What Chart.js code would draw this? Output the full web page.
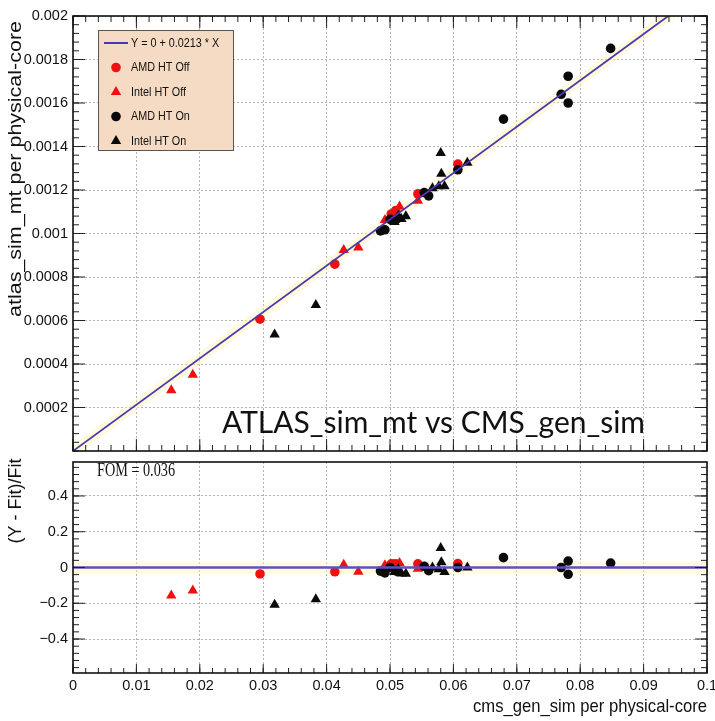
<!DOCTYPE html>
<html>
<head>
<meta charset="utf-8">
<script src="https://cdn.jsdelivr.net/npm/chart.js@4/dist/chart.umd.min.js"></script>
<style>
    html, body { margin: 0; padding: 0; background: #fff; }
    #wrap { position: relative; width: 715px; height: 721px; overflow: hidden; }
    #top { position: absolute; left: 0; top: 0; }
    #bot { position: absolute; left: 0; top: 456px; }
</style>
</head>
<body>
<div id="wrap">
    <canvas id="top" width="715" height="457"></canvas>
    <canvas id="bot" width="715" height="265"></canvas>
</div>
<script>
// ---------------------------------------------------------------------------
// Data
// ---------------------------------------------------------------------------

const xMin = 0;
const xMax = 0.1;
const xTicks = [0, 0.01, 0.02, 0.03, 0.04, 0.05, 0.06, 0.07, 0.08, 0.09, 0.1];
const xTickLabels = ['0', '0.01', '0.02', '0.03', '0.04', '0.05', '0.06', '0.07', '0.08', '0.09', '0.1'];

const topYTicks = [0.0002, 0.0004, 0.0006, 0.0008, 0.001, 0.0012, 0.0014, 0.0016, 0.0018, 0.002];
const topYTickLabels = ['0.0002', '0.0004', '0.0006', '0.0008', '0.001', '0.0012', '0.0014', '0.0016', '0.0018', '0.002'];

const resYTicks = [-0.4, -0.2, 0, 0.2, 0.4];
const resYTickLabels = ['\u22120.4', '\u22120.2', '0', '0.2', '0.4'];

const fitSlope = 0.0213;
const fitLabel = 'Y = 0 + 0.0213 * X';
const fomLabel = 'FOM = 0.036';

const amdOffX = [0.0295, 0.0413, 0.0502, 0.0509, 0.0544, 0.0607];
const amdOffY = [0.000606, 0.000859, 0.001090, 0.001106, 0.001182, 0.001319];
const amdOffRes = [-0.036, -0.024, 0.020, 0.020, 0.020, 0.022];

const intelOffX = [0.0155, 0.0189, 0.0427, 0.0450, 0.0492, 0.0505, 0.0515, 0.0544];
const intelOffY = [0.000279, 0.000351, 0.000924, 0.000936, 0.001062, 0.001092, 0.001124, 0.001151];
const intelOffRes = [-0.156, -0.129, 0.016, -0.024, 0.013, 0.015, 0.025, -0.007];

const amdOnX = [0.0485, 0.0492, 0.0500, 0.0510, 0.0554, 0.0561, 0.0607, 0.0679, 0.0770, 0.0781, 0.0781, 0.0848];
const amdOnY = [0.001012, 0.001017, 0.001065, 0.001065, 0.001188, 0.001173, 0.001293, 0.001526, 0.001640, 0.001723, 0.001600, 0.001851];
const amdOnRes = [-0.020, -0.030, 0.000, -0.020, 0.007, -0.018, 0.000, 0.055, 0.000, 0.036, -0.038, 0.025];

const intelOnX = [0.0318, 0.0383, 0.0507, 0.0513, 0.0518, 0.0525, 0.0567, 0.0577, 0.0580, 0.0581, 0.0586, 0.0622];
const intelOnY = [0.000536, 0.000671, 0.001053, 0.001082, 0.001067, 0.001079, 0.001208, 0.001217, 0.001370, 0.001275, 0.001217, 0.001325];
const intelOnRes = [-0.209, -0.178, -0.025, -0.010, -0.033, -0.035, 0.000, -0.010, 0.109, 0.030, -0.025, 0.000];

// ---------------------------------------------------------------------------
// Helpers
// ---------------------------------------------------------------------------

const RED = '#f01010';
const BLACK = '#0a0a0a';
const FIT = '#4a38b2';
const BAND = 'rgba(255, 242, 180, 0.45)';
const tickFont = { family: '"Liberation Sans", Arial, sans-serif', size: 14.5 };

const zip = (xs, ys) => xs.map((x, i) => ({ x: x, y: ys[i] }));

function markers(label, xs, ys, color, style) {
    return {
        label: label,
        data: zip(xs, ys),
        pointStyle: style,
        pointRadius: style === 'triangle' ? 6 : 4.8,
        backgroundColor: color,
        borderColor: color,
        borderWidth: 0
    };
}

function fitLine(ys, color, width) {
    return {
        data: [{ x: xMin, y: ys[0] }, { x: xMax, y: ys[1] }],
        showLine: true,
        pointRadius: 0,
        borderColor: color,
        borderWidth: width,
        clip: 0
    };
}

function fixedTicks(values) {
    return (scale) => { scale.ticks = values.map(v => ({ value: v })); };
}

function drawText(ctx, t) {
    ctx.save();
    ctx.font = t.font;
    ctx.fillStyle = t.color || '#111';
    ctx.textBaseline = t.baseline || 'alphabetic';
    ctx.textAlign = t.align || 'left';
    ctx.translate(t.x, t.y);
    if (t.rot) ctx.rotate(t.rot * Math.PI / 180);
    if (t.w) {
        ctx.scale(t.w / ctx.measureText(t.text).width, 1);
    } else if (t.sx) {
        ctx.scale(t.sx, 1);
    }
    ctx.fillText(t.text, 0, 0);
    ctx.restore();
}

function drawTicks(chart, t) {
    const ctx = chart.ctx;
    const a = chart.chartArea;
    const s = chart.scales[t.axis];
    const majors = s.ticks.map(k => k.value);
    const minors = [];
    const start = Math.ceil(s.min / t.minorStep - 1e-6);
    for (let i = start; i * t.minorStep <= s.max + 1e-9; i++) minors.push(i * t.minorStep);
    const mark = (v, len) => {
        const p = s.getPixelForValue(v);
        ctx.beginPath();
        if (t.side === 'left') { ctx.moveTo(a.left, p); ctx.lineTo(a.left + len, p); }
        if (t.side === 'right') { ctx.moveTo(a.right, p); ctx.lineTo(a.right - len, p); }
        if (t.side === 'top') { ctx.moveTo(p, a.top); ctx.lineTo(p, a.top + len); }
        if (t.side === 'bottom') { ctx.moveTo(p, a.bottom); ctx.lineTo(p, a.bottom - len); }
        ctx.stroke();
    };
    ctx.save();
    ctx.strokeStyle = '#222';
    ctx.lineWidth = 1;
    minors.forEach(v => mark(v, t.minor));
    majors.forEach(v => mark(v, t.major));
    ctx.restore();
}

function drawLegend(chart, lg) {
    const ctx = chart.ctx;
    ctx.save();
    ctx.fillStyle = '#f6dbc4';
    ctx.fillRect(lg.x, lg.y, lg.w, lg.h);
    ctx.strokeStyle = '#555';
    ctx.lineWidth = 1;
    ctx.strokeRect(lg.x + 0.5, lg.y + 0.5, lg.w, lg.h);
    lg.items.forEach((idx, row) => {
        const ds = chart.data.datasets[idx];
        const cy = lg.y + lg.first + row * lg.step;
        const cx = lg.x + 18;
        if (ds.showLine) {
            ctx.strokeStyle = ds.borderColor;
            ctx.lineWidth = 2;
            ctx.beginPath();
            ctx.moveTo(lg.x + 6, cy);
            ctx.lineTo(lg.x + 30, cy);
            ctx.stroke();
        } else {
            ctx.fillStyle = ds.backgroundColor;
            ctx.strokeStyle = ds.borderColor;
            Chart.helpers.drawPoint(ctx, {
                pointStyle: ds.pointStyle,
                radius: ds.pointRadius,
                rotation: 0,
                borderWidth: 0
            }, cx, cy);
        }
        drawText(ctx, {
            text: ds.label, x: lg.x + 33, y: cy, baseline: 'middle', sx: 0.8,
            font: '13.5px "Liberation Sans", Arial, sans-serif'
        });
    });
    ctx.restore();
}

const decor = {
    id: 'decor',
    afterDraw(chart, args, opts) {
        const ctx = chart.ctx;
        const a = chart.chartArea;
        (opts.ticks || []).forEach(t => drawTicks(chart, t));
        ctx.save();
        ctx.strokeStyle = '#111';
        ctx.lineWidth = 1.6;
        ctx.strokeRect(a.left, a.top, a.right - a.left, a.bottom - a.top);
        ctx.restore();
        (opts.texts || []).forEach(t => drawText(ctx, t));
        if (opts.legend) drawLegend(chart, opts.legend);
    }
};

function baseOptions() {
    return {
        responsive: false,
        animation: false,
        devicePixelRatio: 1,
        events: [],
        plugins: { legend: { display: false }, tooltip: { enabled: false } }
    };
}

const gridStyle = { color: '#b4b4b4', lineWidth: 1, drawTicks: false };
const dotted = { display: false, dash: [2, 2] };

// ---------------------------------------------------------------------------
// Top panel
// ---------------------------------------------------------------------------

const topOptions = baseOptions();
topOptions.layout = { padding: { left: 0, right: 8, top: 16, bottom: 1 } };
topOptions.scales = {
    x: {
        type: 'linear', min: xMin, max: xMax,
        afterBuildTicks: fixedTicks(xTicks),
        afterFit: (s) => { s.height = 0; s.paddingLeft = 0; s.paddingRight = 0; },
        ticks: { display: false },
        grid: gridStyle, border: dotted
    },
    y: {
        type: 'linear', min: 0, max: 0.002,
        afterBuildTicks: fixedTicks(topYTicks),
        afterFit: (s) => { s.width = 73; s.paddingTop = 0; s.paddingBottom = 0; },
        ticks: { font: tickFont, color: '#111', padding: 5, callback: (v, i) => topYTickLabels[i] },
        grid: gridStyle, border: dotted
    }
};
topOptions.plugins.decor = {
    ticks: [
        { axis: 'y', side: 'left', major: 12, minor: 6, minorStep: 0.00004 },
        { axis: 'y', side: 'right', major: 12, minor: 6, minorStep: 0.00004 },
        { axis: 'x', side: 'top', major: 12, minor: 6, minorStep: 0.002 },
        { axis: 'x', side: 'bottom', major: 12, minor: 6, minorStep: 0.002 }
    ],
    texts: [
        { text: 'atlas_sim_mt per physical-core', x: 16, y: 169, rot: -90, align: 'center', baseline: 'middle',
          font: '18px "Liberation Sans", Arial, sans-serif', w: 296 },
        { text: 'ATLAS_sim_mt vs CMS_gen_sim', x: 222, y: 433, font: '30px Lato, "Open Sans", sans-serif', w: 423 }
    ],
    legend: { x: 98, y: 30, w: 135, h: 120, first: 13, step: 24.5, items: [0, 4, 3, 2, 1] }
};

const topChart = new Chart(document.getElementById('top'), {
    type: 'scatter',
    data: {
        datasets: [
            Object.assign(fitLine([0, fitSlope * xMax], FIT, 1.8), { label: fitLabel }),
            markers('Intel HT On', intelOnX, intelOnY, BLACK, 'triangle'),
            markers('AMD HT On', amdOnX, amdOnY, BLACK, 'circle'),
            markers('Intel HT Off', intelOffX, intelOffY, RED, 'triangle'),
            markers('AMD HT Off', amdOffX, amdOffY, RED, 'circle'),
            fitLine([0, fitSlope * xMax], BAND, 10)
        ]
    },
    options: topOptions,
    plugins: [decor]
});

// ---------------------------------------------------------------------------
// Residual panel
// ---------------------------------------------------------------------------

const botOptions = baseOptions();
botOptions.layout = { padding: { left: 0, right: 8, top: 1, bottom: 0 } };
botOptions.scales = {
    x: {
        type: 'linear', min: xMin, max: xMax,
        afterBuildTicks: fixedTicks(xTicks),
        afterFit: (s) => { s.height = 48; s.paddingLeft = 0; s.paddingRight = 0; },
        ticks: { font: tickFont, color: '#111', padding: 4, autoSkip: false, maxRotation: 0,
                 callback: (v, i) => xTickLabels[i] },
        grid: gridStyle, border: dotted
    },
    y: {
        type: 'linear', min: -0.59, max: 0.59,
        afterBuildTicks: fixedTicks(resYTicks),
        afterFit: (s) => { s.width = 73; s.paddingTop = 0; s.paddingBottom = 0; },
        ticks: { font: tickFont, color: '#111', padding: 5, callback: (v, i) => resYTickLabels[i] },
        grid: gridStyle, border: dotted
    }
};
botOptions.plugins.decor = {
    ticks: [
        { axis: 'y', side: 'left', major: 12, minor: 6, minorStep: 0.04 },
        { axis: 'y', side: 'right', major: 12, minor: 6, minorStep: 0.04 },
        { axis: 'x', side: 'bottom', major: 9, minor: 5, minorStep: 0.002 }
    ],
    texts: [
        { text: '(Y - Fit)/Fit', x: 16, y: 45, rot: -90, align: 'center', baseline: 'middle',
          font: '18px "Liberation Sans", Arial, sans-serif', w: 85 },
        { text: fomLabel, x: 97, y: 20, font: '18px "Liberation Serif", "Times New Roman", serif', w: 78 },
        { text: 'cms_gen_sim per physical-core', x: 707, y: 251, align: 'right', baseline: 'middle',
          font: '19px "Liberation Sans", Arial, sans-serif', w: 234 }
    ]
};

const botChart = new Chart(document.getElementById('bot'), {
    type: 'scatter',
    data: {
        datasets: [
            fitLine([0, 0], '#5d4fc4', 2.6),
            markers('Intel HT On', intelOnX, intelOnRes, BLACK, 'triangle'),
            markers('AMD HT On', amdOnX, amdOnRes, BLACK, 'circle'),
            markers('Intel HT Off', intelOffX, intelOffRes, RED, 'triangle'),
            markers('AMD HT Off', amdOffX, amdOffRes, RED, 'circle'),
            fitLine([0, 0], BAND, 12)
        ]
    },
    options: botOptions,
    plugins: [decor]
});
</script>
</body>
</html>
